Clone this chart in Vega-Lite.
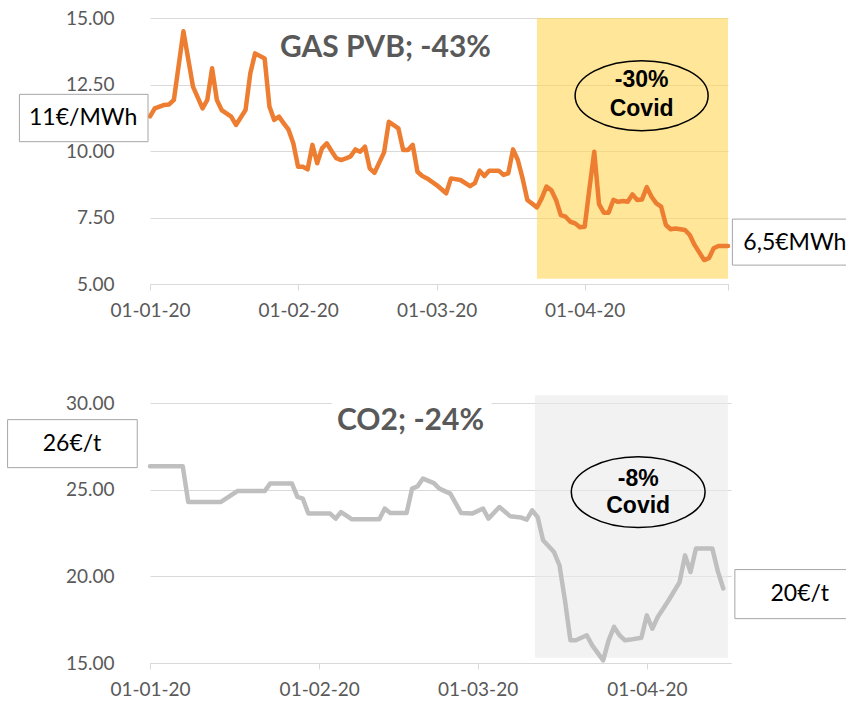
{
  "$schema": "https://vega.github.io/schema/vega-lite/v6.json",
  "background": "white",
  "padding": {"left": 7, "top": 9, "right": 0, "bottom": 5},
  "bounds": "flush",
  "spacing": 119,
  "config": {"view": {"stroke": null}},
  "datasets": {
    "gas": [
      {"date": "2020-01-01", "value": 11.3}, {"date": "2020-01-02", "value": 11.6}, {"date": "2020-01-04", "value": 11.73},
      {"date": "2020-01-05", "value": 11.75}, {"date": "2020-01-06", "value": 11.92}, {"date": "2020-01-08", "value": 14.5},
      {"date": "2020-01-10", "value": 12.42}, {"date": "2020-01-12", "value": 11.6}, {"date": "2020-01-13", "value": 11.92},
      {"date": "2020-01-14", "value": 13.11}, {"date": "2020-01-15", "value": 11.92}, {"date": "2020-01-16", "value": 11.54},
      {"date": "2020-01-18", "value": 11.29}, {"date": "2020-01-19", "value": 10.98}, {"date": "2020-01-21", "value": 11.54},
      {"date": "2020-01-22", "value": 12.92}, {"date": "2020-01-23", "value": 13.67}, {"date": "2020-01-25", "value": 13.48},
      {"date": "2020-01-26", "value": 11.67}, {"date": "2020-01-27", "value": 11.17}, {"date": "2020-01-28", "value": 11.29},
      {"date": "2020-01-29", "value": 11.04}, {"date": "2020-01-30", "value": 10.8}, {"date": "2020-01-31", "value": 10.29},
      {"date": "2020-02-01", "value": 9.41}, {"date": "2020-02-02", "value": 9.41}, {"date": "2020-02-03", "value": 9.31},
      {"date": "2020-02-04", "value": 10.23}, {"date": "2020-02-05", "value": 9.54}, {"date": "2020-02-06", "value": 10.1},
      {"date": "2020-02-07", "value": 10.29}, {"date": "2020-02-08", "value": 10.0}, {"date": "2020-02-09", "value": 9.73},
      {"date": "2020-02-10", "value": 9.66}, {"date": "2020-02-11", "value": 9.72}, {"date": "2020-02-12", "value": 9.8},
      {"date": "2020-02-13", "value": 10.06}, {"date": "2020-02-14", "value": 9.97}, {"date": "2020-02-15", "value": 10.16},
      {"date": "2020-02-16", "value": 9.35}, {"date": "2020-02-17", "value": 9.18}, {"date": "2020-02-19", "value": 9.95},
      {"date": "2020-02-20", "value": 11.1}, {"date": "2020-02-22", "value": 10.85}, {"date": "2020-02-23", "value": 10.04},
      {"date": "2020-02-24", "value": 10.04}, {"date": "2020-02-25", "value": 10.23}, {"date": "2020-02-26", "value": 9.22},
      {"date": "2020-02-27", "value": 9.06}, {"date": "2020-02-28", "value": 8.97}, {"date": "2020-03-01", "value": 8.72},
      {"date": "2020-03-03", "value": 8.41}, {"date": "2020-03-04", "value": 8.97}, {"date": "2020-03-06", "value": 8.91},
      {"date": "2020-03-08", "value": 8.68}, {"date": "2020-03-09", "value": 8.79}, {"date": "2020-03-10", "value": 9.26},
      {"date": "2020-03-11", "value": 9.06}, {"date": "2020-03-12", "value": 9.26}, {"date": "2020-03-14", "value": 9.26},
      {"date": "2020-03-15", "value": 9.1}, {"date": "2020-03-16", "value": 9.16}, {"date": "2020-03-17", "value": 10.06},
      {"date": "2020-03-18", "value": 9.66}, {"date": "2020-03-19", "value": 8.97}, {"date": "2020-03-20", "value": 8.16},
      {"date": "2020-03-22", "value": 7.88}, {"date": "2020-03-23", "value": 8.22}, {"date": "2020-03-24", "value": 8.66},
      {"date": "2020-03-25", "value": 8.53}, {"date": "2020-03-26", "value": 8.16}, {"date": "2020-03-27", "value": 7.59},
      {"date": "2020-03-28", "value": 7.53}, {"date": "2020-03-29", "value": 7.34}, {"date": "2020-03-30", "value": 7.28},
      {"date": "2020-03-31", "value": 7.13}, {"date": "2020-04-01", "value": 7.15}, {"date": "2020-04-02", "value": 8.6},
      {"date": "2020-04-03", "value": 9.97}, {"date": "2020-04-04", "value": 8.0}, {"date": "2020-04-05", "value": 7.68},
      {"date": "2020-04-06", "value": 7.68}, {"date": "2020-04-07", "value": 8.16}, {"date": "2020-04-08", "value": 8.09},
      {"date": "2020-04-09", "value": 8.12}, {"date": "2020-04-10", "value": 8.09}, {"date": "2020-04-11", "value": 8.37},
      {"date": "2020-04-12", "value": 8.16}, {"date": "2020-04-13", "value": 8.18}, {"date": "2020-04-14", "value": 8.64},
      {"date": "2020-04-15", "value": 8.28}, {"date": "2020-04-16", "value": 8.03}, {"date": "2020-04-17", "value": 7.91},
      {"date": "2020-04-18", "value": 7.22}, {"date": "2020-04-19", "value": 7.06}, {"date": "2020-04-20", "value": 7.09},
      {"date": "2020-04-22", "value": 7.03}, {"date": "2020-04-23", "value": 6.84}, {"date": "2020-04-24", "value": 6.47},
      {"date": "2020-04-26", "value": 5.9}, {"date": "2020-04-27", "value": 5.97}, {"date": "2020-04-28", "value": 6.34},
      {"date": "2020-04-29", "value": 6.43}, {"date": "2020-05-01", "value": 6.43}
    ],
    "co2": [
      {"date": "2020-01-01", "value": 26.35}, {"date": "2020-01-07", "value": 26.35}, {"date": "2020-01-08", "value": 24.29},
      {"date": "2020-01-14", "value": 24.29}, {"date": "2020-01-17", "value": 24.92}, {"date": "2020-01-22", "value": 24.92},
      {"date": "2020-01-23", "value": 25.35}, {"date": "2020-01-27", "value": 25.35}, {"date": "2020-01-28", "value": 24.58},
      {"date": "2020-01-29", "value": 24.48}, {"date": "2020-01-30", "value": 23.62}, {"date": "2020-02-03", "value": 23.62},
      {"date": "2020-02-04", "value": 23.33}, {"date": "2020-02-05", "value": 23.71}, {"date": "2020-02-07", "value": 23.29},
      {"date": "2020-02-12", "value": 23.29}, {"date": "2020-02-13", "value": 23.91}, {"date": "2020-02-14", "value": 23.65},
      {"date": "2020-02-17", "value": 23.65}, {"date": "2020-02-18", "value": 25.06}, {"date": "2020-02-19", "value": 25.19},
      {"date": "2020-02-20", "value": 25.64}, {"date": "2020-02-22", "value": 25.38}, {"date": "2020-02-23", "value": 25.06},
      {"date": "2020-02-25", "value": 24.77}, {"date": "2020-02-27", "value": 23.65}, {"date": "2020-02-29", "value": 23.62},
      {"date": "2020-03-02", "value": 23.91}, {"date": "2020-03-03", "value": 23.33}, {"date": "2020-03-05", "value": 24.0},
      {"date": "2020-03-07", "value": 23.46}, {"date": "2020-03-09", "value": 23.39}, {"date": "2020-03-10", "value": 23.27},
      {"date": "2020-03-11", "value": 23.81}, {"date": "2020-03-12", "value": 23.42}, {"date": "2020-03-13", "value": 22.08},
      {"date": "2020-03-15", "value": 21.4}, {"date": "2020-03-16", "value": 20.64}, {"date": "2020-03-17", "value": 18.62},
      {"date": "2020-03-18", "value": 16.31}, {"date": "2020-03-19", "value": 16.31}, {"date": "2020-03-21", "value": 16.6},
      {"date": "2020-03-22", "value": 16.02}, {"date": "2020-03-24", "value": 15.15}, {"date": "2020-03-25", "value": 16.31},
      {"date": "2020-03-26", "value": 17.08}, {"date": "2020-03-27", "value": 16.6}, {"date": "2020-03-28", "value": 16.31},
      {"date": "2020-03-29", "value": 16.35}, {"date": "2020-03-31", "value": 16.46}, {"date": "2020-04-01", "value": 17.75},
      {"date": "2020-04-02", "value": 16.98}, {"date": "2020-04-03", "value": 17.65}, {"date": "2020-04-05", "value": 18.62},
      {"date": "2020-04-07", "value": 19.67}, {"date": "2020-04-08", "value": 21.21}, {"date": "2020-04-09", "value": 20.25},
      {"date": "2020-04-10", "value": 21.6}, {"date": "2020-04-13", "value": 21.6}, {"date": "2020-04-14", "value": 20.3},
      {"date": "2020-04-15", "value": 19.3}
    ]
  },
  "vconcat": [
    {
      "width": 578,
      "height": 266,
      "encoding": {
        "x": {
          "field": "date", "type": "temporal",
          "scale": {"type": "utc", "nice": false, "domain": [{"year": 2020, "month": 1, "date": 1, "utc": true}, {"year": 2020, "month": 5, "date": 1, "utc": true}]},
          "axis": {
            "title": null, "grid": false,
            "values": [{"year": 2020, "month": 1, "date": 1, "utc": true}, {"year": 2020, "month": 2, "date": 1, "utc": true}, {"year": 2020, "month": 3, "date": 1, "utc": true}, {"year": 2020, "month": 4, "date": 1, "utc": true}, {"year": 2020, "month": 5, "date": 1, "utc": true}],
            "labelExpr": "utcmonth(datum.value) == 4 ? '' : utcFormat(datum.value, '%d-%m-%y')",
            "domainColor": "#D9D9D9", "tickColor": "#D9D9D9", "tickSize": 6, "labelPadding": 11,
            "labelFont": "Lato", "labelFontSize": 19, "labelColor": "#595959", "labelFlush": false, "labelOverlap": false
          }
        },
        "y": {
          "field": "value", "type": "quantitative",
          "scale": {"domain": [5, 15], "nice": false, "zero": false},
          "axis": {
            "title": null, "values": [5, 7.5, 10, 12.5, 15], "format": ".2f", "grid": true, "gridColor": "#D9D9D9",
            "domain": false, "ticks": false, "labelPadding": 36, "labelFont": "Lato", "labelFontSize": 19, "labelColor": "#595959"
          }
        }
      },
      "layer": [
        {
          "data": {"values": [{"date": "2020-03-22", "date2": "2020-05-01", "value": 5.2, "value2": 15}]},
          "mark": {"type": "rect", "fill": "#FFD555", "opacity": 0.6},
          "encoding": {"x2": {"field": "date2"}, "y2": {"field": "value2"}}
        },
        {
          "data": {"name": "gas"},
          "mark": {"type": "line", "color": "#ED7D31", "strokeWidth": 4.5, "strokeJoin": "round", "strokeCap": "round"}
        },
        {
          "data": {"values": [
            {"date": "2019-12-04T16:00:00Z", "date2": "2019-12-31T14:00:00Z", "value": 10.35, "value2": 12.13},
            {"date": "2020-05-01T22:00:00Z", "date2": "2020-06-05T00:00:00Z", "value": 5.71, "value2": 7.44}
          ]},
          "mark": {"type": "rect", "fill": "white", "stroke": "#A6A6A6", "strokeWidth": 1},
          "encoding": {"x2": {"field": "date2"}, "y2": {"field": "value2"}}
        },
        {
          "data": {"values": [{"date": "2019-12-18T00:00:00Z", "value": 11.23, "label": "11€/MWh"}]},
          "mark": {"type": "text", "font": "Lato", "fontSize": 23, "color": "#000000", "align": "center", "baseline": "middle"},
          "encoding": {"text": {"field": "label"}}
        },
        {
          "data": {"values": [{"date": "2020-05-04T05:00:00Z", "value": 6.55, "label": "6,5€MWh"}]},
          "mark": {"type": "text", "font": "Lato", "fontSize": 23, "color": "#000000", "align": "left", "baseline": "middle"},
          "encoding": {"text": {"field": "label"}}
        },
        {
          "data": {"values": [{"date": "2020-02-19T07:00:00Z", "value": 13.87, "label": "GAS PVB; -43%"}]},
          "mark": {"type": "text", "font": "Lato", "fontSize": 30, "fontWeight": "bold", "color": "#595959", "align": "center", "baseline": "middle"},
          "encoding": {"text": {"field": "label"}}
        },
        {
          "data": {"values": [{"date": "2020-04-12T22:00:00Z", "value": 12.08}]},
          "mark": {"type": "point", "filled": false, "stroke": "#000000", "strokeWidth": 1.5, "opacity": 1, "size": 17700,
            "shape": "M -1 0 C -1 -0.2905 -0.5523 -0.526 0 -0.526 C 0.5523 -0.526 1 -0.2905 1 0 C 1 0.2905 0.5523 0.526 0 0.526 C -0.5523 0.526 -1 0.2905 -1 0 Z"}
        },
        {
          "data": {"values": [{"date": "2020-04-12T22:00:00Z", "value": 12.67, "label": "-30%"}, {"date": "2020-04-12T22:00:00Z", "value": 11.57, "label": "Covid"}]},
          "mark": {"type": "text", "font": "Liberation Sans", "fontSize": 23, "fontWeight": "bold", "color": "#000000", "align": "center", "baseline": "middle"},
          "encoding": {"text": {"field": "label"}}
        }
      ]
    },
    {
      "width": 581,
      "height": 260,
      "encoding": {
        "x": {
          "field": "date", "type": "temporal",
          "scale": {"type": "utc", "nice": false, "domain": [{"year": 2020, "month": 1, "date": 1, "utc": true}, {"year": 2020, "month": 4, "date": 16, "hours": 10, "utc": true}]},
          "axis": {
            "title": null, "grid": false,
            "values": [{"year": 2020, "month": 1, "date": 1, "utc": true}, {"year": 2020, "month": 2, "date": 1, "utc": true}, {"year": 2020, "month": 3, "date": 1, "utc": true}, {"year": 2020, "month": 4, "date": 1, "utc": true}],
            "labelExpr": "utcFormat(datum.value, '%d-%m-%y')",
            "domainColor": "#D9D9D9", "tickColor": "#D9D9D9", "tickSize": 6, "labelPadding": 11,
            "labelFont": "Lato", "labelFontSize": 19, "labelColor": "#595959", "labelFlush": false, "labelOverlap": false
          }
        },
        "y": {
          "field": "value", "type": "quantitative",
          "scale": {"domain": [15, 30], "nice": false, "zero": false},
          "axis": {
            "title": null, "values": [15, 20, 25, 30], "format": ".2f", "grid": true, "gridColor": "#D9D9D9",
            "domain": false, "ticks": false, "labelPadding": 36, "labelFont": "Lato", "labelFontSize": 19, "labelColor": "#595959"
          }
        }
      },
      "layer": [
        {
          "data": {"values": [{"date": "2020-03-11T12:00:00Z", "date2": "2020-04-15T20:00:00Z", "value": 15.31, "value2": 30.44}]},
          "mark": {"type": "rect", "fill": "#E9E9E9", "opacity": 0.6},
          "encoding": {"x2": {"field": "date2"}, "y2": {"field": "value2"}}
        },
        {
          "data": {"values": [{"date": "2020-02-03T07:00:00Z", "date2": "2020-03-03T14:00:00Z", "value": 28.2, "value2": 30.4}]},
          "mark": {"type": "rect", "fill": "white"},
          "encoding": {"x2": {"field": "date2"}, "y2": {"field": "value2"}}
        },
        {
          "data": {"name": "co2"},
          "mark": {"type": "line", "color": "#BFBFBF", "strokeWidth": 4.5, "strokeJoin": "round", "strokeCap": "round"}
        },
        {
          "data": {"values": [
            {"date": "2019-12-05T22:00:00Z", "date2": "2019-12-29T16:00:00Z", "value": 26.27, "value2": 29.04},
            {"date": "2020-04-17T03:00:00Z", "date2": "2020-05-12T00:00:00Z", "value": 17.56, "value2": 20.39}
          ]},
          "mark": {"type": "rect", "fill": "white", "stroke": "#A6A6A6", "strokeWidth": 1},
          "encoding": {"x2": {"field": "date2"}, "y2": {"field": "value2"}}
        },
        {
          "data": {"values": [{"date": "2019-12-17T17:00:00Z", "value": 27.65, "label": "26€/t"}, {"date": "2020-04-29T00:00:00Z", "value": 18.97, "label": "20€/t"}]},
          "mark": {"type": "text", "font": "Lato", "fontSize": 23, "color": "#000000", "align": "center", "baseline": "middle"},
          "encoding": {"text": {"field": "label"}}
        },
        {
          "data": {"values": [{"date": "2020-02-17T17:00:00Z", "value": 28.96, "label": "CO2; -24%"}]},
          "mark": {"type": "text", "font": "Lato", "fontSize": 30, "fontWeight": "bold", "color": "#595959", "align": "center", "baseline": "middle"},
          "encoding": {"text": {"field": "label"}}
        },
        {
          "data": {"values": [{"date": "2020-03-30T10:00:00Z", "value": 24.86}]},
          "mark": {"type": "point", "filled": false, "stroke": "#000000", "strokeWidth": 1.5, "opacity": 1, "size": 17900,
            "shape": "M -1 0 C -1 -0.2905 -0.5523 -0.53 0 -0.53 C 0.5523 -0.53 1 -0.2905 1 0 C 1 0.2905 0.5523 0.53 0 0.53 C -0.5523 0.53 -1 0.2905 -1 0 Z"}
        },
        {
          "data": {"values": [{"date": "2020-03-30T10:00:00Z", "value": 25.64, "label": "-8%"}, {"date": "2020-03-30T10:00:00Z", "value": 24.04, "label": "Covid"}]},
          "mark": {"type": "text", "font": "Liberation Sans", "fontSize": 23, "fontWeight": "bold", "color": "#000000", "align": "center", "baseline": "middle"},
          "encoding": {"text": {"field": "label"}}
        }
      ]
    }
  ]
}
